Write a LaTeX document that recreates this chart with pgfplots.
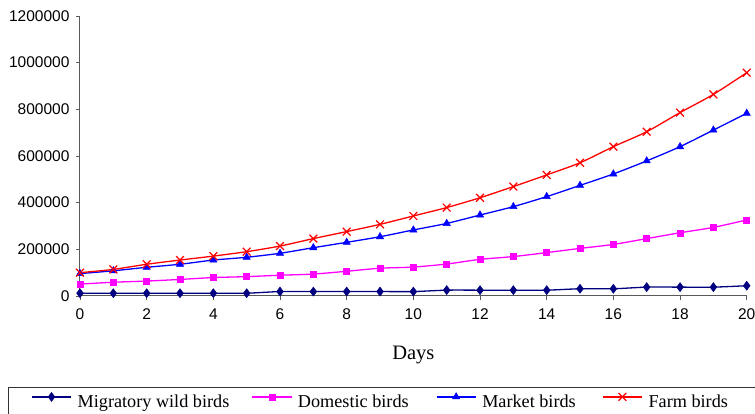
\documentclass[border=0pt]{standalone}
\usepackage{fontspec}
\setmainfont{Liberation Serif}
\newfontfamily\arial{Liberation Sans}
\usepackage{pgfplots}
\pgfplotsset{compat=1.18}

\definecolor{navyline}{RGB}{0,0,128}
\definecolor{magline}{RGB}{255,0,255}
\definecolor{blueline}{RGB}{0,0,255}
\definecolor{redline}{RGB}{255,0,0}

\begin{document}
\begin{tikzpicture}[x=1pt,y=1pt]
\path[use as bounding box] (0,0) rectangle (755,414);
\clip (0,0) rectangle (755,414);
\begin{axis}[
  at={(80pt,118pt)}, anchor=south west,
  scale only axis, width=666.7pt, height=280pt,
  xmin=0, xmax=20, ymin=0, ymax=1200000,
  axis x line=bottom, axis y line=left,
  axis line style={-, line width=1pt, draw=gray!70!black},
  xtick={0,2,...,20},
  ytick={0,200000,400000,600000,800000,1000000,1200000},
  yticklabels={0,200000,400000,600000,800000,1000000,1200000},
  scaled y ticks=false,
  tick align=outside, major tick length=4pt,
  tick style={line width=0.8pt, draw=gray!70!black},
  /pgf/number format/assume math mode=true,
  tick label style={font=\arial\fontsize{15.5}{18}\selectfont, text=black},
  yticklabel style={xshift=-3pt},
  xticklabel style={yshift=-5pt},
  xlabel={Days},
  xlabel style={font=\fontsize{20.5}{24}\selectfont, yshift=-20pt},
  clip=false,
  every axis plot/.append style={line width=1.3pt, smooth, tension=0.45},
  legend columns=4,
  legend cell align=left,
  legend style={at={(-0.108,-0.325)}, anchor=north west,
    draw=black!80, line width=0.8pt,
    inner xsep=23pt, inner ysep=5pt,
    font=\fontsize{18.2}{21}\selectfont,
    nodes={inner sep=0pt},
    /tikz/every odd column/.append style={column sep=6pt}},
  legend image code/.code={%
    \draw[mark repeat=2, mark phase=2, line width=1.3pt]
      plot coordinates {(0pt,5pt) (19.5pt,5pt) (39pt,5pt)};},
]
% Migratory wild birds
\addplot[color=navyline, mark=diamond*, mark size=4.5pt,
  mark options={solid, line width=0.5pt}] coordinates {
  (0,12000) (1,12000) (2,12000) (3,12000) (4,12000) (5,12000)
  (6,19000) (7,19000) (8,19000) (9,19000) (10,19000)
  (11,25000) (12,25000) (13,25000) (14,25000)
  (15,31000) (16,31000) (17,38000) (18,38000) (19,38000) (20,44000)};
\addlegendentry{\makebox[174pt][l]{Migratory wild birds}}
% Domestic birds
\addplot[color=magline, mark=square*, mark size=3pt,
  mark options={solid, line width=0.5pt}] coordinates {
  (0,51000) (1,59000) (2,64000) (3,71000) (4,79000) (5,83000)
  (6,89000) (7,94000) (8,106000) (9,119000) (10,124000)
  (11,137000) (12,157000) (13,169000) (14,186000) (15,204000)
  (16,221000) (17,246000) (18,271000) (19,294000) (20,326000)};
\addlegendentry{\makebox[138pt][l]{Domestic birds}}
% Market birds
\addplot[color=blueline, mark=triangle*, mark size=4.2pt,
  mark options={solid, line width=0.5pt}] coordinates {
  (0,96000) (1,108000) (2,123000) (3,136000) (4,154000) (5,166000)
  (6,183000) (7,207000) (8,230000) (9,254000) (10,283000)
  (11,311000) (12,347000) (13,383000) (14,426000) (15,474000)
  (16,523000) (17,579000) (18,640000) (19,711000) (20,783000)};
\addlegendentry{\makebox[120pt][l]{Market birds}}
% Farm birds
\addplot[color=redline, mark=x, mark size=5.5pt,
  mark options={solid, line width=1.2pt}] coordinates {
  (0,100000) (1,114000) (2,136000) (3,154000) (4,171000) (5,190000)
  (6,214000) (7,246000) (8,276000) (9,307000) (10,343000)
  (11,379000) (12,421000) (13,469000) (14,519000) (15,571000)
  (16,640000) (17,704000) (18,786000) (19,864000) (20,957000)};
\addlegendentry{\makebox[130pt][l]{Farm birds}}
\end{axis}
\end{tikzpicture}
\end{document}
